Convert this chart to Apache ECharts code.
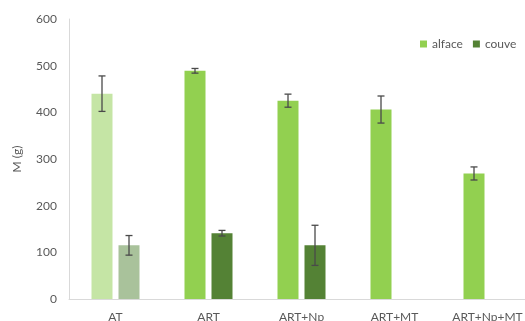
<!DOCTYPE html>
<html>
<head>
<meta charset="utf-8">
<script src="https://cdn.jsdelivr.net/npm/echarts@6/dist/echarts.min.js"></script>
<style>
  html, body { margin: 0; padding: 0; background: #fff; }
  #chart { width: 525px; height: 321px; }
</style>
</head>
<body>
<div id="chart"></div>
<script>
// Treatments on the category axis
var categories = ['AT', 'ART', 'ART+Np', 'ART+MT', 'ART+Np+MT'];

// Mean mass per treatment (g)
var alfaceValues = [440, 489, 425, 406, 269];
var couveValues = [115, 141, 115, null, null];

// Error bar half-lengths (g)
var alfaceErrors = [38, 5, 14, 29, 14];
var couveErrors = [21, 6, 43, null, null];

// Y axis ticks
var yTicks = { min: 0, max: 600, interval: 100 };

var ALFACE = '#92d050', COUVE = '#548235';
var ALFACE_FADED = '#c5e5a5', COUVE_FADED = '#a9c29b';
var BAR_W = 21, BAR_GAP_PX = 6;
var FONT = 'Lato, sans-serif';

function barData(values, normal, faded) {
  return values.map(function (v, i) {
    if (v == null) return '-';
    return { value: v, itemStyle: { color: i === 0 ? faded : normal } };
  });
}

var errorData = [];
[[alfaceValues, alfaceErrors], [couveValues, couveErrors]].forEach(function (pair, s) {
  pair[0].forEach(function (v, i) {
    if (v == null || pair[1][i] == null) return;
    errorData.push([i, s, v - pair[1][i], v + pair[1][i]]);
  });
});

var chart = echarts.init(document.getElementById('chart'), null, { renderer: 'canvas' });
chart.setOption({
  animation: false,
  textStyle: { fontFamily: FONT },
  grid: { left: 69, top: 19, bottom: 22, width: 465, containLabel: false, outerBoundsMode: 'none' },
  legend: {
    data: ['alface', 'couve'],
    orient: 'horizontal',
    left: 418, top: 36, width: 200,
    padding: [2, 2],
    itemWidth: 7, itemHeight: 7, itemGap: 10,
    icon: 'rect',
    textStyle: { color: '#595959', fontSize: 12, fontFamily: FONT }
  },
  xAxis: {
    type: 'category',
    data: categories,
    axisLine: { lineStyle: { color: '#d9d9d9', width: 1 } },
    axisTick: { show: false },
    axisLabel: { color: '#595959', fontSize: 12, margin: 12, interval: 0, hideOverlap: false, fontFamily: FONT }
  },
  yAxis: {
    type: 'value',
    min: yTicks.min, max: yTicks.max, interval: yTicks.interval,
    name: 'M (g)',
    nameLocation: 'middle',
    nameGap: 46,
    nameRotate: 90,
    nameTextStyle: { color: '#595959', fontSize: 12, fontFamily: FONT },
    axisLine: { show: true, lineStyle: { color: '#d9d9d9', width: 1 } },
    axisTick: { show: false },
    splitLine: { show: false },
    axisLabel: { color: '#595959', fontSize: 12, margin: 12, fontFamily: FONT }
  },
  series: [
    {
      name: 'alface', type: 'bar', barWidth: BAR_W, barGap: (BAR_GAP_PX / BAR_W * 100) + '%',
      itemStyle: { color: ALFACE },
      data: barData(alfaceValues, ALFACE, ALFACE_FADED)
    },
    {
      name: 'couve', type: 'bar', barWidth: BAR_W,
      itemStyle: { color: COUVE },
      data: barData(couveValues, COUVE, COUVE_FADED)
    },
    {
      name: 'errors', type: 'custom',
      z: 10,
      renderItem: function (params, api) {
        var cat = api.value(0), s = api.value(1);
        var lo = api.coord([cat, api.value(2)]);
        var hi = api.coord([cat, api.value(3)]);
        var off = (s === 0 ? -1 : 1) * (BAR_W + BAR_GAP_PX) / 2;
        var x = lo[0] + off;
        var cap = 3.5;
        var style = { stroke: '#4a4a4a', lineWidth: 1.3 };
        return {
          type: 'group',
          children: [
            { type: 'line', shape: { x1: x, y1: lo[1], x2: x, y2: hi[1] }, style: style },
            { type: 'line', shape: { x1: x - cap, y1: lo[1], x2: x + cap, y2: lo[1] }, style: style },
            { type: 'line', shape: { x1: x - cap, y1: hi[1], x2: x + cap, y2: hi[1] }, style: style }
          ]
        };
      },
      encode: { x: 0, y: [2, 3] },
      data: errorData
    }
  ]
});
</script>
</body>
</html>
